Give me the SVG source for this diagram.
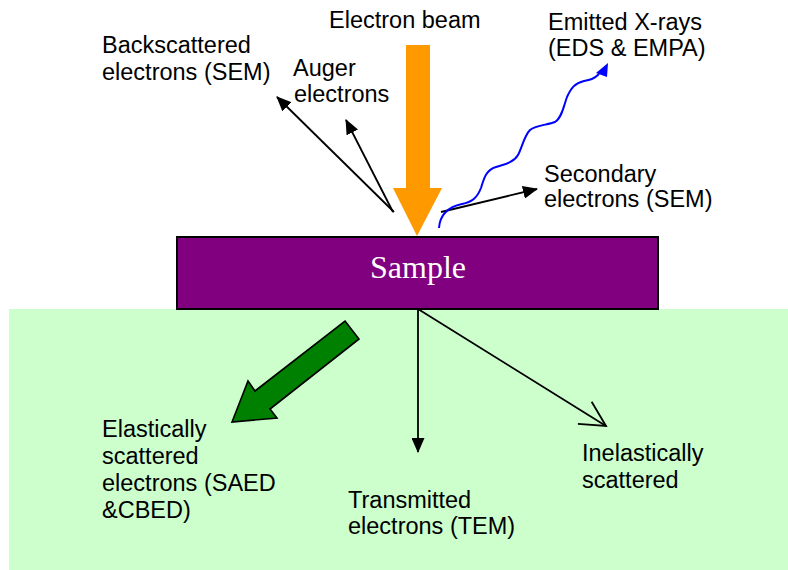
<svg xmlns="http://www.w3.org/2000/svg" width="788" height="570" viewBox="0 0 788 570">
  <style>
    .lbl { font-family: "Liberation Sans", Arial, sans-serif; font-size: 23.5px; fill: #000; }
    .ln { stroke: #000; stroke-width: 1.8; fill: none; }
    .wave { stroke: #0000FF; stroke-width: 2; fill: none; }
  </style>
  <defs>
    <marker id="ah" viewBox="0 0 15 13" refX="14" refY="6.5" markerWidth="15" markerHeight="13" markerUnits="userSpaceOnUse" orient="auto">
      <path d="M0,0 L15,6.5 L0,13 z" fill="#000"/>
    </marker>
    <marker id="open" viewBox="0 0 28 28" refX="26" refY="14" markerWidth="28" markerHeight="28" markerUnits="userSpaceOnUse" orient="auto">
      <path d="M1,1 L26,14 L1,27" fill="none" stroke="#000" stroke-width="1.8"/>
    </marker>
  </defs>

  <rect x="0" y="0" width="788" height="570" fill="#fff"/>
  <g id="lower-region">
    <rect x="9" y="309" width="779" height="261" fill="#CCFFCC"/>
  </g>

  <g id="sample">
    <rect x="177" y="237" width="481" height="72" fill="#800080" stroke="#000" stroke-width="2"/>
    <text x="418" y="278" text-anchor="middle" font-family="'Liberation Serif', 'Times New Roman', serif" font-size="32" fill="#fff">Sample</text>
  </g>

  <g id="electron-beam">
    <polygon points="406,45 430,45 430,188 442,188 417,236 393,188 406,188" fill="#FF9900"/>
    <text class="lbl" x="329" y="28">Electron beam</text>
  </g>

  <g id="elastic-arrow">
    <polygon points="345,321 359,339 270,409 277,418 232,422 248,381 255,391" fill="#008000" stroke="#000" stroke-width="1.6" stroke-linejoin="miter"/>
  </g>

  <g id="connectors">
    <line class="ln" x1="394" y1="212" x2="277" y2="97" marker-end="url(#ah)"/>
    <line class="ln" x1="393" y1="212" x2="346" y2="120" marker-end="url(#ah)"/>
    <line class="ln" x1="441" y1="212" x2="537" y2="189" marker-end="url(#ah)"/>
    <line class="ln" x1="418" y1="309" x2="418" y2="452" marker-end="url(#ah)"/>
    <line class="ln" x1="418" y1="309" x2="606" y2="426" marker-end="url(#open)"/>
    <path class="wave" d="M439,228 C440,214 448,207 462,204 C472,202 477,198 481,188 C484,178 486,170 496,167 C506,164 514,162 518,155 C522,148 524,136 530,130 C536,125 548,125 555,122 C562,118 564,105 567,97 C571,88 575,83 584,81 C590,80 594,79 599,74"/>
    <polygon points="608,63 596,73 607,77" fill="#0000FF"/>
  </g>

  <g id="label-backscattered">
    <text class="lbl" x="102" y="53">Backscattered</text>
    <text class="lbl" x="102" y="80">electrons (SEM)</text>
  </g>
  <g id="label-auger">
    <text class="lbl" x="293" y="76">Auger</text>
    <text class="lbl" x="294" y="102">electrons</text>
  </g>
  <g id="label-xrays">
    <text class="lbl" x="548" y="30">Emitted X-rays</text>
    <text class="lbl" x="548" y="56">(EDS &amp; EMPA)</text>
  </g>
  <g id="label-secondary">
    <text class="lbl" x="544" y="182">Secondary</text>
    <text class="lbl" x="544" y="207">electrons (SEM)</text>
  </g>
  <g id="label-elastic">
    <text class="lbl" x="102" y="437">Elastically</text>
    <text class="lbl" x="102" y="464">scattered</text>
    <text class="lbl" x="102" y="491">electrons (SAED</text>
    <text class="lbl" x="102" y="518">&amp;CBED)</text>
  </g>
  <g id="label-transmitted">
    <text class="lbl" x="348" y="508">Transmitted</text>
    <text class="lbl" x="348" y="534">electrons (TEM)</text>
  </g>
  <g id="label-inelastic">
    <text class="lbl" x="582" y="461">Inelastically</text>
    <text class="lbl" x="582" y="488">scattered</text>
  </g>
</svg>
